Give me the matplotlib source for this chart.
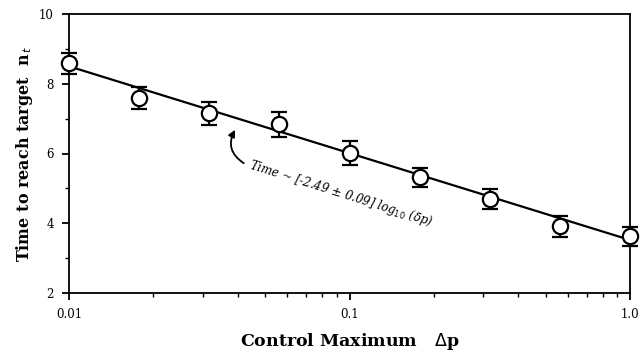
import numpy as np
import matplotlib.pyplot as plt
from matplotlib.ticker import FixedLocator, NullFormatter

# data
control_max = [0.01, 0.0178, 0.0316, 0.0562, 0.1, 0.178, 0.316, 0.562, 1.0]
time_to_target = [8.59, 7.59, 7.16, 6.84, 6.01, 5.32, 4.69, 3.92, 3.63]
time_err = [0.30, 0.32, 0.33, 0.36, 0.35, 0.27, 0.29, 0.30, 0.27]
fit_x = [0.01, 1.0]
fit_y = [8.50, 3.52]

plt.rcParams['font.family'] = ['DejaVu Serif']

fig = plt.figure(figsize=(6.41, 3.58), dpi=100)
ax = fig.add_axes([69 / 641, 1 - 293 / 358, 561 / 641, 279 / 358])

ax.plot(fit_x, fit_y, color='black', lw=1.6, clip_on=False, zorder=2)
ax.errorbar(control_max, time_to_target, yerr=time_err, fmt='o', color='black',
            mfc='white', mec='black', mew=1.6, ms=11, elinewidth=1.6,
            capsize=6, capthick=1.6, clip_on=False, zorder=3)

ax.set_xscale('log')
ax.set_xlim(0.01, 1.0)
ax.set_ylim(2, 10)
ax.set_xticks([0.01, 0.1, 1.0])
ax.set_xticklabels(['0.01', '0.1', '1.0'])
ax.xaxis.set_minor_formatter(NullFormatter())
ax.set_yticks([2, 4, 6, 8, 10])
ax.yaxis.set_minor_locator(FixedLocator([3, 5, 7, 9]))
ax.tick_params(which='major', direction='out', length=5, width=1.3, labelsize=8.5)
ax.tick_params(axis='y', which='major', pad=6)
ax.tick_params(axis='x', which='major', pad=6)
ax.tick_params(which='minor', direction='out', length=3, width=1.0)
for s in ax.spines.values():
    s.set_linewidth(1.3)

ax.set_xlabel(r'Control Maximum   $\Delta$p', fontsize=12.5, fontweight='bold', labelpad=7)
ax.set_ylabel(r'Time to reach target  n$_{\,t}$', fontsize=11.5, fontweight='bold', labelpad=3)

ax.text(0.0435, 5.58, r'Time ~ [-2.49 $\pm$ 0.09] log$_{10}$ ($\delta$p)', fontsize=8.5,
        style='italic', rotation=-17.5, rotation_mode='anchor', ha='left', va='baseline')
ax.annotate('', xy=(0.0395, 6.75), xytext=(0.0428, 5.68),
            arrowprops=dict(arrowstyle='-|>', color='black', lw=1.3,
                            connectionstyle='arc3,rad=-0.5', mutation_scale=10))

fig.savefig('out.png', dpi=100)
